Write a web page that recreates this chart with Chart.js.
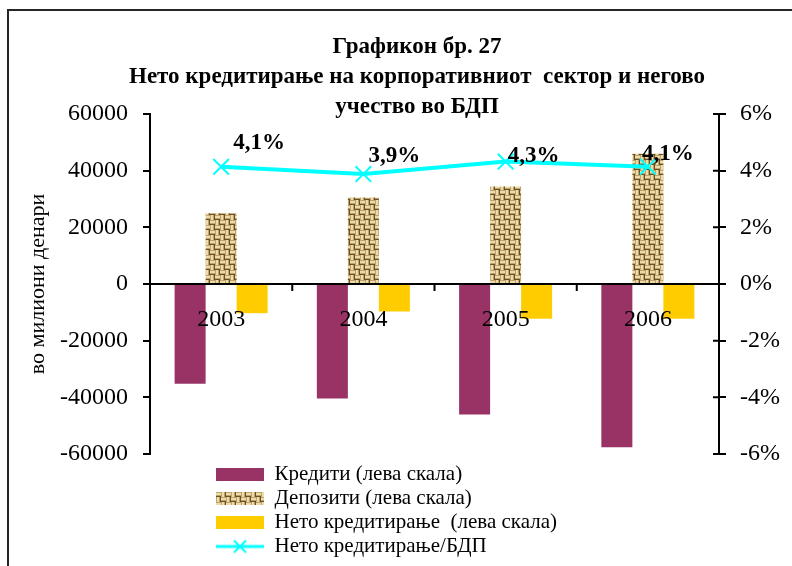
<!DOCTYPE html>
<html lang="mk">
<head>
    <meta charset="UTF-8">
    <title>Графикон бр. 27</title>
    <style>
        body {
            margin: 0;
            background: #fff;
        }
        .wrap {
            position: relative;
            width: 792px;
            height: 566px;
            overflow: hidden;
        }
        .frame {
            position: absolute;
            left: 7px;
            top: 9px;
            width: 820px;
            height: 620px;
            border: 2px solid #262626;
            pointer-events: none;
        }
        canvas {
            position: absolute;
            left: 0;
            top: 0;
        }
    </style>
    <script src="https://cdn.jsdelivr.net/npm/chart.js"></script>
</head>
<body>
    <div class="wrap">
        <canvas id="netCreditChart" width="792" height="566"></canvas>
        <div class="frame"></div>
    </div>

    <script>
        // values (millions of denars / % of GDP)
        const years = ['2003', '2004', '2005', '2006'];
        const credits = [-35200, -40400, -46100, -57600];
        const deposits = [25000, 30500, 34400, 46000];
        const netCredit = [-10300, -9700, -12300, -12300];
        const netToGdp = [4.14, 3.88, 4.32, 4.14];
        const leftTicks = [-60000, -40000, -20000, 0, 20000, 40000, 60000];
        const rightTicks = [-6, -4, -2, 0, 2, 4, 6];

        const FONT = "'Liberation Serif', 'Times New Roman', serif";
        const MAROON = '#993366';
        const GOLD = '#FFCC00';
        const CYAN = '#00FFFF';

        // where the % labels sit relative to their point (px)
        const labelOffsets = [[38, -24], [31, -18], [28, -6], [20, -13]];

        // woven "burlap" tile for the deposits bars
        function burlapTile() {
            const c = document.createElement('canvas');
            c.width = 10;
            c.height = 10;
            const g = c.getContext('2d');
            g.fillStyle = '#bda36b';
            g.fillRect(0, 0, 10, 10);
            for (let by = 0; by < 2; by++) {
                for (let bx = 0; bx < 2; bx++) {
                    const x0 = bx * 5, y0 = by * 5;
                    if ((bx + by) % 2 === 0) {
                        g.fillStyle = '#ecdca8'; g.fillRect(x0, y0 + 1, 5, 2);
                        g.fillStyle = '#6b4f2a'; g.fillRect(x0, y0 + 4, 5, 1);
                    } else {
                        g.fillStyle = '#ecdca8'; g.fillRect(x0 + 1, y0, 2, 5);
                        g.fillStyle = '#6b4f2a'; g.fillRect(x0 + 4, y0, 1, 5);
                    }
                }
            }
            return c;
        }

        const ctx = document.getElementById('netCreditChart').getContext('2d');
        const burlap = ctx.createPattern(burlapTile(), 'repeat');

        function boxIcon(fill) {
            const c = document.createElement('canvas');
            c.width = 48;
            c.height = 13;
            const g = c.getContext('2d');
            g.fillStyle = fill === burlap ? g.createPattern(burlapTile(), 'repeat') : fill;
            g.fillRect(0, 0, 48, 13);
            return c;
        }

        function lineIcon() {
            const c = document.createElement('canvas');
            c.width = 48;
            c.height = 16;
            const g = c.getContext('2d');
            g.strokeStyle = CYAN;
            g.lineWidth = 3;
            g.beginPath();
            g.moveTo(0, 8); g.lineTo(48, 8);
            g.stroke();
            g.lineWidth = 2;
            g.beginPath();
            g.moveTo(18, 2); g.lineTo(30, 14);
            g.moveTo(30, 2); g.lineTo(18, 14);
            g.stroke();
            return c;
        }

        const legendIcons = [boxIcon(MAROON), boxIcon(burlap), boxIcon(GOLD), lineIcon()];

        // zero line, category ticks/labels, inner right ticks, % labels
        const decorations = {
            id: 'decorations',
            afterDatasetsDraw(chart) {
                const { ctx, chartArea, scales } = chart;
                const x = scales.x, y = scales.y, y1 = scales.y1;
                const zero = y.getPixelForValue(0);
                ctx.save();
                ctx.strokeStyle = '#000';
                ctx.lineWidth = 2;
                ctx.beginPath();
                ctx.moveTo(chartArea.left, zero);
                ctx.lineTo(chartArea.right, zero);
                for (let i = 0; i < years.length - 1; i++) {
                    const bx = (x.getPixelForValue(i) + x.getPixelForValue(i + 1)) / 2;
                    ctx.moveTo(bx, zero);
                    ctx.lineTo(bx, zero + 7);
                }
                y1.ticks.forEach(t => {
                    const ty = y1.getPixelForValue(t.value);
                    ctx.moveTo(chartArea.right - 6, ty);
                    ctx.lineTo(chartArea.right, ty);
                });
                ctx.stroke();

                ctx.fillStyle = '#000';
                ctx.textAlign = 'center';
                ctx.textBaseline = 'middle';
                ctx.font = '24px ' + FONT;
                years.forEach((yr, i) => {
                    ctx.fillText(yr, x.getPixelForValue(i), zero + 36);
                });

                ctx.font = 'bold 23px ' + FONT;
                chart.getDatasetMeta(3).data.forEach((pt, i) => {
                    const txt = netToGdp[i].toFixed(1).replace('.', ',') + '%';
                    ctx.fillText(txt, pt.x + labelOffsets[i][0], pt.y + labelOffsets[i][1]);
                });
                ctx.restore();
            }
        };

        // place title and legend where the original has them
        const placement = {
            id: 'placement',
            afterLayout(chart) {
                const t = chart.titleBlock;
                t.left += 21;
                t.right += 21;
                const lg = chart.legend;
                const w = lg.width, h = lg.height;
                lg.left = 213;
                lg.top = 461;
                lg.right = lg.left + w;
                lg.bottom = lg.top + h;
            }
        };

        new Chart(ctx, {
            type: 'bar',
            data: {
                labels: years,
                datasets: [
                    {
                        label: 'Кредити (лева скала)',
                        data: credits,
                        backgroundColor: MAROON,
                        yAxisID: 'y',
                        order: 1
                    },
                    {
                        label: 'Депозити (лева скала)',
                        data: deposits,
                        backgroundColor: burlap,
                        yAxisID: 'y',
                        order: 1
                    },
                    {
                        label: 'Нето кредитирање  (лева скала)',
                        data: netCredit,
                        backgroundColor: GOLD,
                        yAxisID: 'y',
                        order: 1
                    },
                    {
                        type: 'line',
                        label: 'Нето кредитирање/БДП',
                        data: netToGdp,
                        borderColor: CYAN,
                        backgroundColor: CYAN,
                        borderWidth: 4,
                        pointStyle: 'crossRot',
                        pointRadius: 11,
                        pointBorderWidth: 2,
                        pointBorderColor: CYAN,
                        tension: 0,
                        yAxisID: 'y1',
                        order: 0
                    }
                ]
            },
            options: {
                responsive: false,
                animation: false,
                layout: { padding: { left: 0, right: 0, top: 0, bottom: 112 } },
                datasets: {
                    bar: { barPercentage: 1.0, categoryPercentage: 0.654 }
                },
                plugins: {
                    title: {
                        display: true,
                        text: ['Графикон бр. 27', 'Нето кредитирање на корпоративниот  сектор и негово', 'учество во БДП'],
                        font: { family: FONT, size: 23, weight: 'bold', lineHeight: '30px' },
                        color: '#000',
                        padding: { top: 32, bottom: -8 }
                    },
                    legend: {
                        position: 'chartArea',
                        align: 'start',
                        labels: {
                            usePointStyle: true,
                            pointStyleWidth: 48,
                            boxHeight: 13,
                            padding: 3,
                            color: '#000',
                            font: { family: FONT, size: 21 },
                            generateLabels(chart) {
                                return chart.data.datasets.map((ds, i) => ({
                                    text: ds.label,
                                    pointStyle: legendIcons[i],
                                    datasetIndex: i,
                                    hidden: false,
                                    lineWidth: 0,
                                    fontColor: '#000'
                                }));
                            }
                        }
                    },
                    tooltip: { enabled: false }
                },
                scales: {
                    x: {
                        display: false
                    },
                    y: {
                        position: 'left',
                        min: leftTicks[0],
                        max: leftTicks[leftTicks.length - 1],
                        afterBuildTicks(scale) {
                            scale.ticks = leftTicks.map(v => ({ value: v }));
                        },
                        afterFit(scale) { scale.width = 150; },
                        border: { display: true, color: '#000', width: 2 },
                        grid: { drawOnChartArea: false, color: '#000', lineWidth: 2, tickLength: 7 },
                        ticks: {
                            padding: 15,
                            color: '#000',
                            font: { family: FONT, size: 24 },
                            callback: v => String(v)
                        },
                        title: {
                            display: true,
                            text: 'во милиони денари',
                            color: '#000',
                            font: { family: FONT, size: 22 },
                            padding: { top: 25, bottom: 0 }
                        }
                    },
                    y1: {
                        position: 'right',
                        min: rightTicks[0],
                        max: rightTicks[rightTicks.length - 1],
                        afterBuildTicks(scale) {
                            scale.ticks = rightTicks.map(v => ({ value: v }));
                        },
                        afterFit(scale) { scale.width = 73; },
                        border: { display: true, color: '#000', width: 2 },
                        grid: { drawOnChartArea: false, color: '#000', lineWidth: 2, tickLength: 7 },
                        ticks: {
                            padding: 14,
                            color: '#000',
                            font: { family: FONT, size: 24 },
                            callback: v => v + '%'
                        }
                    }
                }
            },
            plugins: [decorations, placement]
        });
    </script>
</body>
</html>
